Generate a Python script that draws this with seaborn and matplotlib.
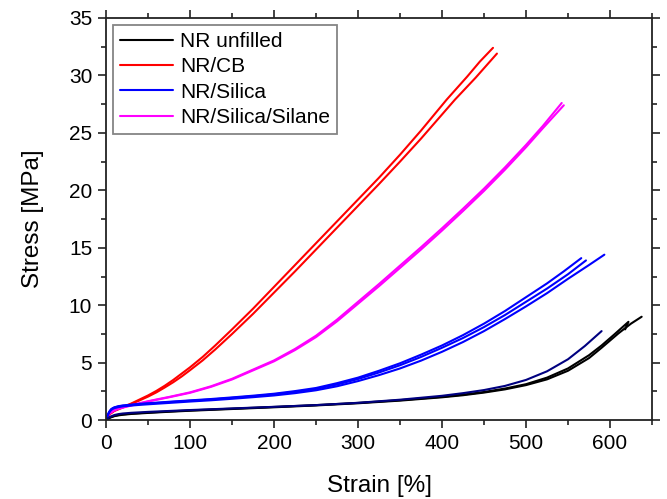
import matplotlib
matplotlib.use("Agg")
import matplotlib.pyplot as plt
from matplotlib.ticker import MultipleLocator
from matplotlib.lines import Line2D
import pandas as pd
import seaborn as sns

sns.set_theme(style="ticks")
plt.rcParams["font.family"] = ["Liberation Sans", "DejaVu Sans"]
plt.rcParams.update({"text.color": "black", "axes.labelcolor": "black",
                     "xtick.color": "black", "ytick.color": "black"})

# Tensile test curves: strain [%] and stress [MPa] for each specimen
materials = ["NR unfilled", "NR/CB", "NR/Silica", "NR/Silica/Silane"]
material_colors = ["#000000", "#FF0000", "#0000FF", "#FF00FF"]

nr_1_strain = [0, 2, 5, 10, 15, 20, 30, 50, 75, 100, 150, 200, 250, 300, 350, 400,
               425, 450, 475, 500, 525, 550, 575, 590, 605, 622, 618]
nr_1_stress = [0, 0.12, 0.25, 0.38, 0.45, 0.5, 0.57, 0.66, 0.76, 0.85, 1.0, 1.15, 1.31, 1.5, 1.74, 2.03,
               2.22, 2.45, 2.75, 3.13, 3.7, 4.5, 5.65, 6.5, 7.45, 8.56, 7.9]

nr_2_strain = [0, 2, 5, 10, 15, 20, 30, 50, 75, 100, 150, 200, 250, 300, 350, 400,
               425, 450, 475, 500, 525, 550, 575, 590, 610, 625, 637.7]
nr_2_stress = [0, 0.1, 0.22, 0.35, 0.42, 0.47, 0.54, 0.63, 0.73, 0.82, 0.97, 1.12, 1.28, 1.47, 1.7, 1.99,
               2.17, 2.4, 2.68, 3.05, 3.55, 4.3, 5.4, 6.3, 7.55, 8.4, 9.0]

nr_3_strain = [0, 2, 5, 10, 15, 20, 30, 50, 75, 100, 150, 200, 250, 300, 350, 400,
               425, 450, 475, 500, 525, 550, 570, 590]
nr_3_stress = [0, 0.15, 0.3, 0.45, 0.53, 0.58, 0.64, 0.72, 0.8, 0.88, 1.02, 1.16, 1.31, 1.51, 1.78, 2.12,
               2.35, 2.62, 2.98, 3.5, 4.25, 5.3, 6.45, 7.75]

cb_1_strain = [0, 2, 5, 10, 15, 20, 30, 40, 50, 60, 70, 80, 90, 100, 115, 130, 150, 175, 200,
               225, 250, 275, 300, 325, 350, 375, 405.6, 430, 445, 460.7]
cb_1_stress = [0, 0.35, 0.6, 0.85, 1.0, 1.15, 1.45, 1.8, 2.15, 2.55, 3.0, 3.5, 4.05, 4.6, 5.5, 6.5, 7.9, 9.7, 11.6,
               13.5, 15.4, 17.3, 19.2, 21.1, 23.1, 25.2, 27.9, 29.9, 31.2, 32.4]

cb_2_strain = [0, 2, 5, 10, 15, 20, 30, 40, 50, 60, 70, 80, 90, 100, 115, 130, 150, 175, 200,
               225, 250, 275, 300, 325, 350, 375, 415.5, 440, 465.4]
cb_2_stress = [0, 0.33, 0.55, 0.8, 0.95, 1.1, 1.4, 1.72, 2.05, 2.42, 2.85, 3.3, 3.8, 4.35, 5.2, 6.15, 7.5, 9.25, 11.1,
               12.95, 14.85, 16.75, 18.65, 20.55, 22.5, 24.5, 27.9, 29.8, 31.9]

si_1_strain = [0, 2, 4, 6, 8, 10, 15, 20, 30, 40, 50, 75, 100, 125, 150, 175, 200, 225, 250,
               275, 300, 325, 350, 375, 400, 425, 450, 475, 500, 525, 545, 565.8]
si_1_stress = [0, 0.45, 0.75, 0.95, 1.05, 1.12, 1.22, 1.28, 1.35, 1.42, 1.47, 1.6, 1.72, 1.84, 1.98, 2.13, 2.3, 2.53, 2.8,
               3.22, 3.7, 4.3, 4.95, 5.7, 6.5, 7.4, 8.4, 9.5, 10.7, 11.9, 12.95, 14.1]

si_2_strain = [0, 2, 4, 6, 8, 10, 15, 20, 30, 40, 50, 75, 100, 125, 150, 175, 200, 225, 250,
               275, 300, 325, 350, 375, 400, 425, 450, 475, 500, 525, 550, 571.4]
si_2_stress = [0, 0.45, 0.75, 0.93, 1.03, 1.1, 1.2, 1.25, 1.32, 1.39, 1.44, 1.57, 1.69, 1.8, 1.94, 2.08, 2.25, 2.46, 2.72,
               3.1, 3.58, 4.15, 4.78, 5.5, 6.3, 7.15, 8.1, 9.15, 10.3, 11.45, 12.7, 13.9]

si_3_strain = [0, 2, 4, 6, 8, 10, 15, 20, 30, 40, 50, 75, 100, 125, 150, 175, 200, 225, 250,
               275, 300, 325, 350, 375, 400, 425, 450, 475, 500, 525, 550, 575, 593.3]
si_3_stress = [0, 0.42, 0.7, 0.88, 0.98, 1.05, 1.14, 1.2, 1.27, 1.33, 1.38, 1.5, 1.62, 1.73, 1.86, 2.0, 2.15, 2.35, 2.6,
               2.95, 3.4, 3.92, 4.5, 5.18, 5.95, 6.8, 7.75, 8.8, 9.9, 11.05, 12.3, 13.5, 14.4]

sis_1_strain = [0, 2, 5, 10, 15, 20, 30, 40, 50, 60, 75, 100, 125, 150, 175, 200, 225, 250,
                275, 300, 325, 350, 375, 400, 425, 450, 475, 500, 520, 542.5]
sis_1_stress = [0, 0.4, 0.65, 0.88, 1.02, 1.12, 1.3, 1.48, 1.65, 1.8, 2.02, 2.42, 2.95, 3.6, 4.4, 5.2, 6.2, 7.35,
                8.75, 10.3, 11.85, 13.45, 15.05, 16.7, 18.4, 20.15, 22.0, 23.95, 25.6, 27.6]

sis_2_strain = [0, 2, 5, 10, 15, 20, 30, 40, 50, 60, 75, 100, 125, 150, 175, 200, 225, 250,
                275, 300, 325, 350, 375, 400, 425, 450, 475, 500, 520, 545]
sis_2_stress = [0, 0.38, 0.62, 0.85, 0.99, 1.09, 1.27, 1.45, 1.62, 1.77, 1.99, 2.38, 2.9, 3.54, 4.33, 5.12, 6.1, 7.23,
                8.6, 10.13, 11.66, 13.25, 14.85, 16.5, 18.2, 19.95, 21.8, 23.75, 25.4, 27.4]

# (material, specimen, strain, stress, colour) in drawing order
specimens = [
    ("NR/CB", "cb_1", cb_1_strain, cb_1_stress, "#FF0000"),
    ("NR/CB", "cb_2", cb_2_strain, cb_2_stress, "#FF0000"),
    ("NR/Silica/Silane", "sis_1", sis_1_strain, sis_1_stress, "#FF00FF"),
    ("NR/Silica/Silane", "sis_2", sis_2_strain, sis_2_stress, "#FF00FF"),
    ("NR unfilled", "nr_1", nr_1_strain, nr_1_stress, "#000000"),
    ("NR unfilled", "nr_2", nr_2_strain, nr_2_stress, "#000000"),
    ("NR/Silica", "si_1", si_1_strain, si_1_stress, "#0000FF"),
    ("NR/Silica", "si_2", si_2_strain, si_2_stress, "#0000FF"),
    ("NR/Silica", "si_3", si_3_strain, si_3_stress, "#0000FF"),
    ("NR unfilled", "nr_3", nr_3_strain, nr_3_stress, "#000080"),
]

frames = []
for mat, spec, strain, stress, _ in specimens:
    frames.append(pd.DataFrame({"strain": strain, "stress": stress,
                                "material": mat, "specimen": spec}))
df = pd.concat(frames, ignore_index=True)
spec_palette = {spec: col for _, spec, _, _, col in specimens}

fig = plt.figure(figsize=(6.67, 4.99), dpi=100)
ax = fig.add_axes([0.159, 0.158, 0.8185, 0.806])

sns.lineplot(data=df, x="strain", y="stress", hue="specimen",
             hue_order=[s[1] for s in specimens], palette=spec_palette,
             estimator=None, sort=False, linewidth=1.5, legend=False, ax=ax)

ax.set_xlim(0, 650)
ax.set_ylim(0, 35)
ax.xaxis.set_major_locator(MultipleLocator(100))
ax.xaxis.set_minor_locator(MultipleLocator(50))
ax.yaxis.set_major_locator(MultipleLocator(5))
ax.yaxis.set_minor_locator(MultipleLocator(2.5))

for side in ["left", "right", "top", "bottom"]:
    ax.spines[side].set_visible(True)
    ax.spines[side].set_linewidth(1.3)
    ax.spines[side].set_color("#222222")

ax.tick_params(which="both", direction="out", top=True, right=True,
               labeltop=False, labelright=False, color="#222222", width=1.2)
ax.tick_params(which="major", length=6, labelsize=15, pad=4)
ax.tick_params(which="minor", length=3.5)

ax.set_xlabel("Strain [%]", fontsize=17.5, labelpad=16)
ax.set_ylabel("Stress [MPa]", fontsize=17.5, labelpad=18)

handles = [Line2D([], [], color=c, linewidth=1.5) for c in material_colors]
leg = ax.legend(handles, materials, loc="upper left",
                bbox_to_anchor=(0.013, 0.983), borderaxespad=0,
                fontsize=15, frameon=True, fancybox=False,
                handlelength=2.5, handletextpad=0.35, labelspacing=0.3,
                borderpad=0.35)
leg.get_frame().set_edgecolor("#666666")
leg.get_frame().set_linewidth(1.3)

fig.savefig("out.png", dpi=100)
